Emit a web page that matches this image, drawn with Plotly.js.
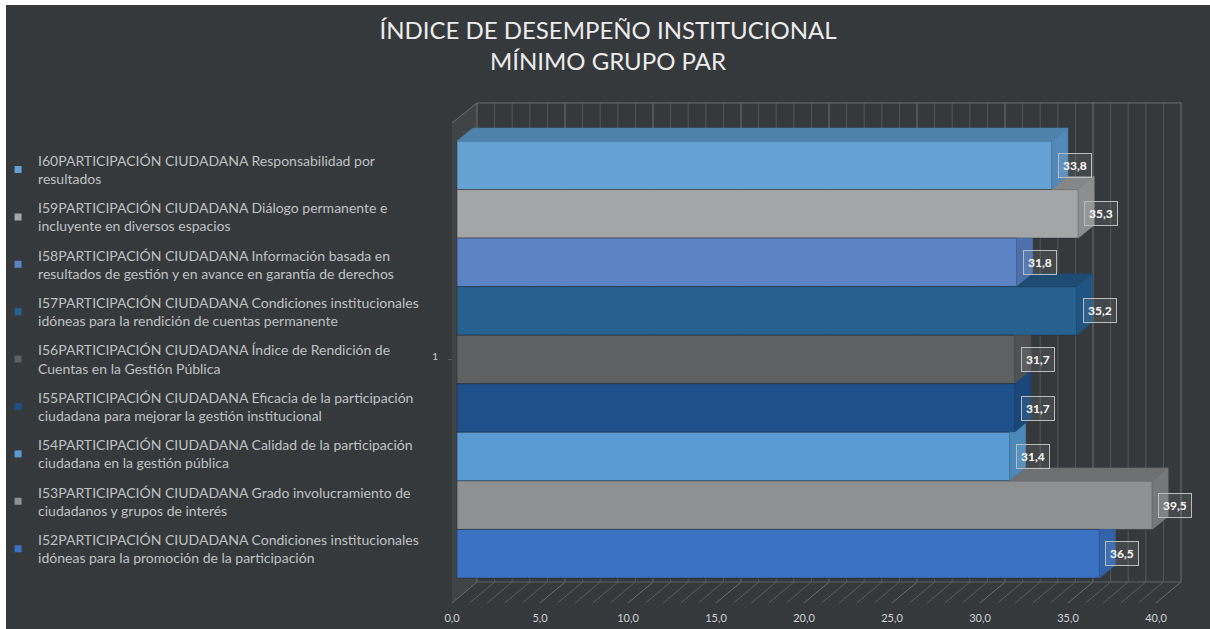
<!DOCTYPE html>
<html>
<head>
<meta charset="utf-8">
<script src="https://cdn.plot.ly/plotly-3.0.1.min.js"></script>
<style>
  html, body { margin:0; padding:0; background:#ffffff; width:1210px; height:629px; overflow:hidden; }
  #chart { position:absolute; left:6px; top:5px; width:1204px; height:624px; }
</style>
</head>
<body>
<div id="chart"></div>
<script>
// ---------------- DATA ----------------
const seriesCodes = ['I60','I59','I58','I57','I56','I55','I54','I53','I52'];
const seriesLabels = [
  'I60PARTICIPACIÓN CIUDADANA Responsabilidad por<br>resultados',
  'I59PARTICIPACIÓN CIUDADANA Diálogo permanente e<br>incluyente en diversos espacios',
  'I58PARTICIPACIÓN CIUDADANA Información basada en<br>resultados de gestión y en avance en garantía de derechos',
  'I57PARTICIPACIÓN CIUDADANA Condiciones institucionales<br>idóneas para la rendición de cuentas permanente',
  'I56PARTICIPACIÓN CIUDADANA Índice de Rendición de<br>Cuentas en la Gestión Pública',
  'I55PARTICIPACIÓN CIUDADANA Eficacia de la participación<br>ciudadana para mejorar la gestión institucional',
  'I54PARTICIPACIÓN CIUDADANA Calidad de la participación<br>ciudadana en la gestión pública',
  'I53PARTICIPACIÓN CIUDADANA Grado involucramiento de<br>ciudadanos y grupos de interés',
  'I52PARTICIPACIÓN CIUDADANA Condiciones institucionales<br>idóneas para la promoción de la participación'
];
const seriesValues = [33.8, 35.3, 31.8, 35.2, 31.7, 31.7, 31.4, 39.5, 36.5];
const categoryLabel = '1';
const xTickValues = [0, 5, 10, 15, 20, 25, 30, 35, 40];

// ---------------- STYLE ----------------
const frontColors = ['#66a1d4','#a4a5a6','#5c83c4','#26618f','#5f6062','#20508a','#5b9bd4','#8f9091','#3b72c4'];
const topColors   = ['#4f82aa','#858687','#4a6ca5','#1d4b72','#4b4c4e','#193f6e','#4a82b3','#6e6f70','#2f5ea6'];
const sideColors  = ['#5289ba','#8d8e8f','#4d70ab','#1f5483','#505153','#1b4679','#4d88bb','#767778','#3163ab'];

const FONT = 'Lato, "Open Sans", sans-serif';
const N = seriesValues.length;
// 3D projection offsets (axis units)
const A = 0.909, B = 0.268;            // bar depth
const FX = -0.284, FY0 = -1.015, FY1 = 8.871;  // front plane
const BX = 1.136, BY0 = -0.582, BY1 = 9.283;   // back plane
const XMAX = 40;

const rowOf = i => N - 1 - i;
const fmt = v => v.toFixed(1).replace('.', ',');

const traces = [];
seriesValues.forEach((v, i) => {
  traces.push({
    type: 'bar', orientation: 'h',
    x: [v], y: [rowOf(i)], width: [1],
    name: seriesCodes[i],
    marker: { color: frontColors[i], line: { color: 'rgba(30,35,40,0.45)', width: 1 } },
    showlegend: false, hoverinfo: 'x+name'
  });
});
seriesValues.forEach((v, i) => {
  const r = rowOf(i);
  const above = i > 0 ? seriesValues[i - 1] : 0;
  if (v > above) {
    traces.push({
      type: 'scatter', mode: 'lines', fill: 'toself',
      x: [above, above + A, v + A, v, above],
      y: [r + 0.5, r + 0.5 + B, r + 0.5 + B, r + 0.5, r + 0.5],
      fillcolor: topColors[i], line: { color: topColors[i], width: 0.5 },
      hoverinfo: 'skip', showlegend: false
    });
  }
  const h = Math.max(0, Math.min(B, (v + A - above) * B / A));
  const cx = Math.min(Math.max(above, v), v + A);
  traces.push({
    type: 'scatter', mode: 'lines', fill: 'toself',
    x: [v, v + A, v + A, cx, v, v],
    y: [r - 0.5, r - 0.5 + B, r + 0.5 + h, r + 0.5, r + 0.5, r - 0.5],
    fillcolor: sideColors[i], line: { color: sideColors[i], width: 0.5 },
    hoverinfo: 'skip', showlegend: false
  });
});
seriesValues.forEach((v, i) => {
  traces.push({
    type: 'scatter', mode: 'markers', x: [null], y: [null],
    name: seriesLabels[i], legendgroup: 'g' + i,
    marker: { symbol: 'square', size: 7, color: frontColors[i] },
    hoverinfo: 'skip', showlegend: true
  });
});

const shapes = [];
shapes.push({
  type: 'path', xref: 'x', yref: 'y', layer: 'below',
  path: `M ${FX},${FY0} L ${BX},${BY0} L ${BX},${BY1} L ${FX},${FY1} Z`,
  fillcolor: '#414447', line: { width: 0 }
});
for (let k = 0; k <= XMAX; k++) {
  const major = k % 5 === 0;
  shapes.push({ type: 'line', xref: 'x', yref: 'y', layer: 'below',
    x0: k + BX, x1: k + BX, y0: BY0, y1: BY1,
    line: { color: major ? '#6c6f72' : '#54575a', width: 1 } });
  shapes.push({ type: 'line', xref: 'x', yref: 'y', layer: 'below',
    x0: k + FX, x1: k + BX, y0: FY0, y1: BY0,
    line: { color: major ? '#6a6d70' : '#5a5d60', width: 1 } });
}
shapes.push({ type: 'line', xref: 'x', yref: 'y', layer: 'below',
  x0: BX, x1: XMAX + BX, y0: BY1, y1: BY1, line: { color: '#6c6f72', width: 1 } });
shapes.push({ type: 'line', xref: 'x', yref: 'y', layer: 'below',
  x0: BX, x1: XMAX + BX, y0: BY0, y1: BY0, line: { color: '#5f6265', width: 1 } });
shapes.push({ type: 'line', xref: 'x', yref: 'y', layer: 'below',
  x0: FX, x1: BX, y0: FY1, y1: BY1, line: { color: '#6c6f72', width: 1 } });

const annotations = seriesValues.map((v, i) => ({
  x: v, y: rowOf(i), xref: 'x', yref: 'y', xshift: 23,
  text: '<b>' + fmt(v) + '</b>', showarrow: false,
  font: { family: FONT, size: 12, color: '#ffffff' },
  bgcolor: 'rgba(255,255,255,0.08)', bordercolor: '#b9bcbf', borderwidth: 1, borderpad: 4
}));

const layout = {
  width: 1204, height: 624,
  paper_bgcolor: '#36393c', plot_bgcolor: 'rgba(0,0,0,0)',
  margin: { l: 442, r: 22, t: 97, b: 24, autoexpand: false },
  separators: ',.',
  barmode: 'overlay',
  title: {
    text: 'ÍNDICE DE DESEMPEÑO INSTITUCIONAL<br>MÍNIMO GRUPO PAR',
    font: { family: FONT, size: 24, color: '#ececec' },
    x: 0.5, xref: 'container', y: 0.946, yref: 'container', yanchor: 'top'
  },
  xaxis: {
    range: [-0.5114, 41.534], tickvals: xTickValues, tickformat: '.1f',
    showgrid: false, zeroline: false, showline: false, ticks: '',
    ticklabelshift: -5, ticklabelstandoff: 5,
    tickfont: { family: FONT, size: 11, color: '#d0d2d4' }, fixedrange: true
  },
  yaxis: {
    range: [-1.056, 9.303], tickvals: [(N - 1) / 2], ticktext: [categoryLabel],
    showgrid: false, zeroline: false, showline: false,
    ticks: 'inside', ticklen: 4, tickcolor: '#5a5d60',
    ticklabelshift: -3, ticklabelstandoff: 9,
    tickfont: { family: FONT, size: 10, color: '#c9cbcd' }, fixedrange: true
  },
  legend: {
    x: -0.608, xref: 'paper', xanchor: 'left',
    y: 0.776, yref: 'container', yanchor: 'top', maxheight: 1,
    bgcolor: 'rgba(0,0,0,0)', tracegroupgap: 8, itemclick: false,
    font: { family: FONT, size: 14, color: '#bfc1c3' }
  },
  shapes: shapes,
  annotations: annotations,
  showlegend: true
};

Plotly.newPlot('chart', traces, layout, { displayModeBar: false });
</script>
</body>
</html>
